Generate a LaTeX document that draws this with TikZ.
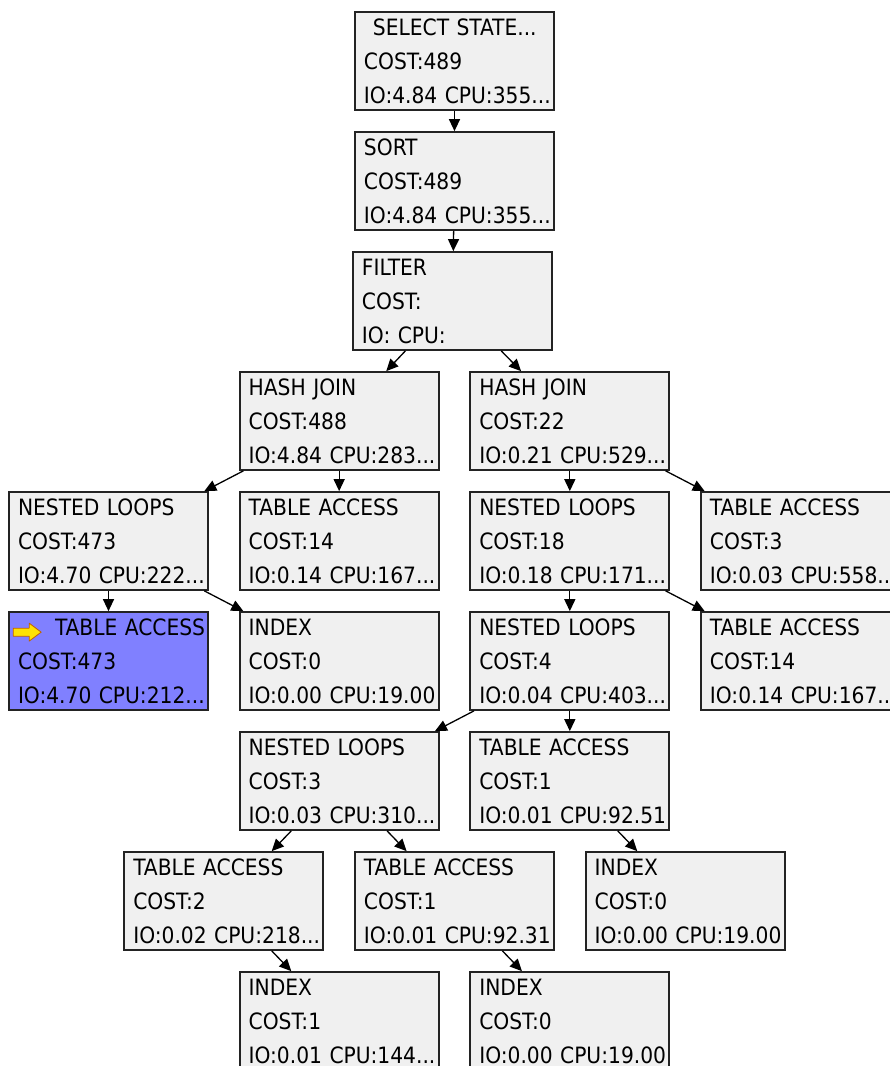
\documentclass[tikz,border=0pt]{standalone}
\usepackage{fontspec}
\setmainfont{DejaVu Sans Condensed}
\usetikzlibrary{arrows.meta}
\definecolor{planfill}{RGB}{240,240,240}
\definecolor{planhi}{RGB}{128,128,255}
\definecolor{planline}{RGB}{35,35,35}
\tikzset{
    plan/.style={rectangle, draw=planline, line width=1.7pt, fill=planfill,
        minimum width=199pt, minimum height=98pt, text width=181pt,
        inner xsep=9pt, inner ysep=0pt, align=left,
        font=\fontsize{22.5}{34}\selectfont, text=black},
    planhot/.style={plan, fill=planhi},
    link/.style={line width=1.3pt, -{Triangle[length=12pt, width=11pt]}},
    hotarrow/.style={fill=yellow!85!orange, draw=orange!75!black, line width=0.8pt, line join=round},
    plan settings/.style={x=1pt, y=-1pt}
}
\newcommand{\planrows}[3]{\mbox{#1}\\\mbox{#2}\\\mbox{#3}}

\begin{document}
\begin{tikzpicture}[plan settings]

    \def\cw{115.33} % half a box plus half a gap
    \def\rh{120}    % row pitch
    \def\xo{108.5}  % centre of the first column
    \def\yo{61}     % centre of the first row

    \path[use as bounding box] (0,0) rectangle (890,1066);
    \clip (0,0) rectangle (890,1066);

    % Top of the plan
    \node[plan] (sel) at ({\xo+3*\cw}, {\yo}) {\planrows{\hspace*{9pt}SELECT STATE...}{COST:489}{IO:4.84 CPU:355...}};
    \node[plan] (sort) at ({\xo+3*\cw}, {\yo+\rh}) {\planrows{SORT}{COST:489}{IO:4.84 CPU:355...}};
    \node[plan] (filter) at ({\xo+3*\cw-2}, {\yo+2*\rh}) {\planrows{FILTER}{COST:}{IO: CPU:}};

    % Joins
    \node[plan] (hjA) at ({\xo+2*\cw}, {\yo+3*\rh}) {\planrows{HASH JOIN}{COST:488}{IO:4.84 CPU:283...}};
    \node[plan] (hjB) at ({\xo+4*\cw}, {\yo+3*\rh}) {\planrows{HASH JOIN}{COST:22}{IO:0.21 CPU:529...}};

    \node[plan] (nlA) at ({\xo}, {\yo+4*\rh}) {\planrows{NESTED LOOPS}{COST:473}{IO:4.70 CPU:222...}};
    \node[plan] (taA) at ({\xo+2*\cw}, {\yo+4*\rh}) {\planrows{TABLE ACCESS}{COST:14}{IO:0.14 CPU:167...}};
    \node[plan] (nlB) at ({\xo+4*\cw}, {\yo+4*\rh}) {\planrows{NESTED LOOPS}{COST:18}{IO:0.18 CPU:171...}};
    \node[plan] (taB) at ({\xo+6*\cw}, {\yo+4*\rh}) {\planrows{TABLE ACCESS}{COST:3}{IO:0.03 CPU:558...}};

    \node[planhot] (taHi) at ({\xo}, {\yo+5*\rh}) {\planrows{\hspace*{37pt}TABLE ACCESS}{COST:473}{IO:4.70 CPU:212...}};
    \node[plan] (idxA) at ({\xo+2*\cw}, {\yo+5*\rh}) {\planrows{INDEX}{COST:0}{IO:0.00 CPU:19.00}};
    \node[plan] (nlC) at ({\xo+4*\cw}, {\yo+5*\rh}) {\planrows{NESTED LOOPS}{COST:4}{IO:0.04 CPU:403...}};
    \node[plan] (taC) at ({\xo+6*\cw}, {\yo+5*\rh}) {\planrows{TABLE ACCESS}{COST:14}{IO:0.14 CPU:167...}};

    % Lower branch
    \node[plan] (nlD) at ({\xo+2*\cw}, {\yo+6*\rh}) {\planrows{NESTED LOOPS}{COST:3}{IO:0.03 CPU:310...}};
    \node[plan] (taD) at ({\xo+4*\cw}, {\yo+6*\rh}) {\planrows{TABLE ACCESS}{COST:1}{IO:0.01 CPU:92.51}};

    \node[plan] (taE) at ({\xo+\cw}, {\yo+7*\rh}) {\planrows{TABLE ACCESS}{COST:2}{IO:0.02 CPU:218...}};
    \node[plan] (taF) at ({\xo+3*\cw}, {\yo+7*\rh}) {\planrows{TABLE ACCESS}{COST:1}{IO:0.01 CPU:92.31}};
    \node[plan] (idxB) at ({\xo+5*\cw}, {\yo+7*\rh}) {\planrows{INDEX}{COST:0}{IO:0.00 CPU:19.00}};

    \node[plan] (idxC) at ({\xo+2*\cw}, {\yo+8*\rh}) {\planrows{INDEX}{COST:1}{IO:0.01 CPU:144...}};
    \node[plan] (idxD) at ({\xo+4*\cw}, {\yo+8*\rh}) {\planrows{INDEX}{COST:0}{IO:0.00 CPU:19.00}};

    % Marker of the current step
    \begin{scope}[shift={(taHi.north west)}]
        \filldraw[hotarrow] (5,17) -- (21,17) -- (21,12) -- (33,21) -- (21,30) -- (21,25) -- (5,25) -- cycle;
    \end{scope}

    % Links
    \draw[link] (sel) -- (sort);
    \draw[link] (sort) -- (filter);
    \draw[link] (filter) -- (hjA);
    \draw[link] (filter) -- (hjB);
    \draw[link] (hjA) -- (nlA);
    \draw[link] (hjA) -- (taA);
    \draw[link] (hjB) -- (nlB);
    \draw[link] (hjB) -- (taB);
    \draw[link] (nlA) -- (taHi);
    \draw[link] (nlA) -- (idxA);
    \draw[link] (nlB) -- (nlC);
    \draw[link] (nlB) -- (taC);
    \draw[link] (nlC) -- (nlD);
    \draw[link] (nlC) -- (taD);
    \draw[link] (nlD) -- (taE);
    \draw[link] (nlD) -- (taF);
    \draw[link] (taD) -- (idxB);
    \draw[link] (taE) -- (idxC);
    \draw[link] (taF) -- (idxD);

\end{tikzpicture}
\end{document}
